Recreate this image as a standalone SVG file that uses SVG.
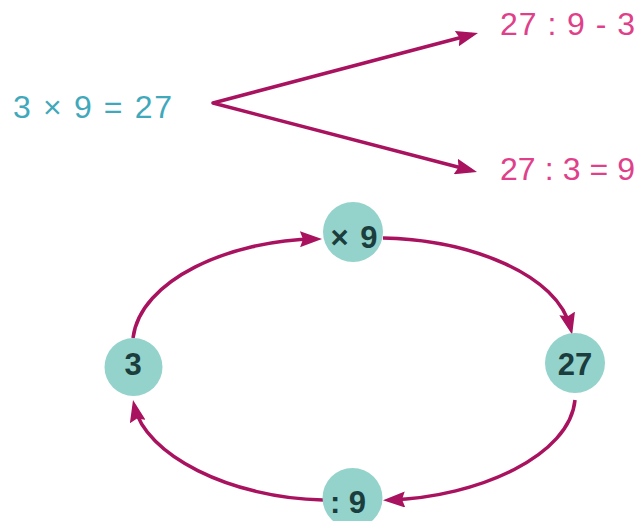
<svg xmlns="http://www.w3.org/2000/svg" width="644" height="521" viewBox="0 0 644 521">
<defs>
<style>
.eq{font-family:"Liberation Sans",Arial,sans-serif;font-size:32px}
.teal{fill:#3fa9bb}
.pink{fill:#e0408a}
.node circle{fill:#93d3cb}
.node text{font-family:"Liberation Sans",Arial,sans-serif;font-size:31px;font-weight:bold;fill:#1b3d3d;text-anchor:middle}
.conn{fill:none;stroke:#a8125e;stroke-width:3.5;stroke-linejoin:round}
</style>
<marker id="ah" markerUnits="userSpaceOnUse" markerWidth="22" markerHeight="16" viewBox="0 0 22 16" refX="16" refY="8" orient="auto-start-reverse">
<path d="M0,0 L22,8 L0,16 L3,8 z" fill="#a8125e"/>
</marker>
</defs>
<rect width="644" height="521" fill="#ffffff"/>
<g id="eq-main"><text class="eq teal" x="13" y="118" textLength="159" lengthAdjust="spacing">3 × 9 = 27</text></g>
<g id="eq-div1"><text class="eq pink" x="500" y="35" textLength="135" lengthAdjust="spacing">27 : 9 - 3</text></g>
<g id="eq-div2"><text class="eq pink" x="500" y="180" textLength="135" lengthAdjust="spacing">27 : 3 = 9</text></g>
<g id="connectors">
<path class="conn" d="M472.2,34.5 L213,103 L471.2,170.5" marker-start="url(#ah)" marker-end="url(#ah)"/>
<path class="conn" d="M133,338 C140,280 230,240 316,239" marker-end="url(#ah)"/>
<path class="conn" d="M383,238 C470,240 558,274 570.8,329" marker-end="url(#ah)"/>
<path class="conn" d="M575,400 C570,455 480,497 389,500" marker-end="url(#ah)"/>
<path class="conn" d="M323,500 C230,498 145,455 134.3,405.9" marker-end="url(#ah)"/>
</g>
<g id="node-x9" class="node"><circle cx="353" cy="232" r="30"/><text x="354" y="248" word-spacing="3">× 9</text></g>
<g id="node-27" class="node"><circle cx="575" cy="363" r="30"/><text x="575" y="375">27</text></g>
<g id="node-3" class="node"><circle cx="133.5" cy="367" r="29"/><text x="133" y="375">3</text></g>
<g id="node-d9" class="node"><circle cx="352.5" cy="498" r="30"/><text x="348" y="513">: 9</text></g>
</svg>
